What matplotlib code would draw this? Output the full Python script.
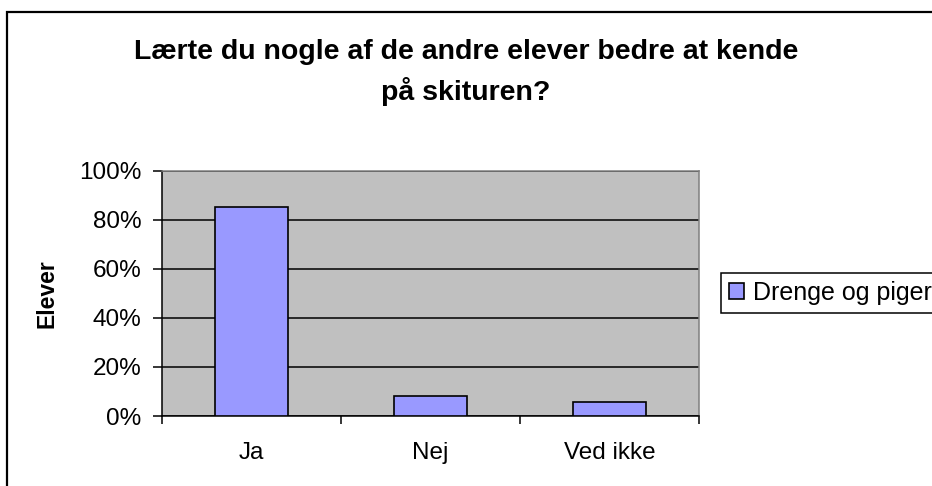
import matplotlib
matplotlib.use("Agg")
import matplotlib.pyplot as plt
from matplotlib.patches import Rectangle
from matplotlib.ticker import FixedLocator, PercentFormatter

plt.rcParams['font.family'] = ['Liberation Sans', 'DejaVu Sans']

categories = ["Ja", "Nej", "Ved ikke"]
values = [85.3, 8.2, 5.6]
series_name = "Drenge og piger"
title_lines = ["Lærte du nogle af de andre elever bedre at kende", "på skituren?"]
ylabel = "Elever"
yticks = [0, 20, 40, 60, 80, 100]

W, H = 932, 486
fig = plt.figure(figsize=(W / 100, H / 100), dpi=100)

def fx(px):
    return px / W

def fy(py):
    return 1 - py / H

# outer chart border (extends beyond right/bottom of image)
fig.patches.append(Rectangle((fx(7), fy(500)), fx(940) - fx(7), fy(12) - fy(500),
                             transform=fig.transFigure, fill=False, edgecolor='black',
                             linewidth=1.6, zorder=10))

left, right, top, bottom = 161.7, 699, 170.7, 416
ax = fig.add_axes([fx(left), fy(bottom), fx(right) - fx(left), fy(top) - fy(bottom)])
ax.set_facecolor('#C0C0C0')

x = list(range(len(categories)))
bars = ax.bar(x, values, width=0.41, color='#9999FF', edgecolor='black', linewidth=1.2,
              label=series_name, zorder=3)

ax.set_xlim(-0.5, len(categories) - 0.5)
ax.set_ylim(0, 100)
ax.yaxis.set_major_locator(FixedLocator(yticks))
ax.yaxis.set_major_formatter(PercentFormatter(decimals=0))
ax.set_axisbelow(True)
ax.yaxis.grid(True, color='black', linewidth=1.1)

ax.set_xticks([i - 0.5 for i in range(len(categories) + 1)])
ax.set_xticklabels([])
ax.set_xticks(x, minor=True)
ax.set_xticklabels(categories, minor=True)
ax.tick_params(axis='x', which='major', direction='out', length=6, width=1.1, color='black')
ax.tick_params(axis='x', which='minor', length=0, pad=19, labelsize=17.5)
ax.tick_params(axis='y', direction='out', length=6.5, width=1.1, pad=8, labelsize=17.5)

for s in ['left', 'bottom']:
    ax.spines[s].set_color('black')
    ax.spines[s].set_linewidth(1.1)
for s in ['top', 'right']:
    ax.spines[s].set_color('#808080')
    ax.spines[s].set_linewidth(1.1)

ax.set_ylabel(ylabel, fontsize=16.5, fontweight='bold', va='center')
ax.yaxis.set_label_coords((47 - left) / (right - left), 0.5)

fig.text(0.5, fy(52), title_lines[0], ha='center', va='center', fontsize=20.5, fontweight='bold')
fig.text(0.5, fy(91), title_lines[1], ha='center', va='center', fontsize=20.5, fontweight='bold')

leg = ax.legend(loc='upper left', bbox_to_anchor=(fx(720.7), fy(272.7)),
                bbox_transform=fig.transFigure, fontsize=18, frameon=True, fancybox=False,
                edgecolor='black', framealpha=1, borderaxespad=0, borderpad=0.33,
                handlelength=0.6, handleheight=0.6, handletextpad=0.35)
leg.get_frame().set_linewidth(1.1)

fig.savefig("out.png", dpi=100)
